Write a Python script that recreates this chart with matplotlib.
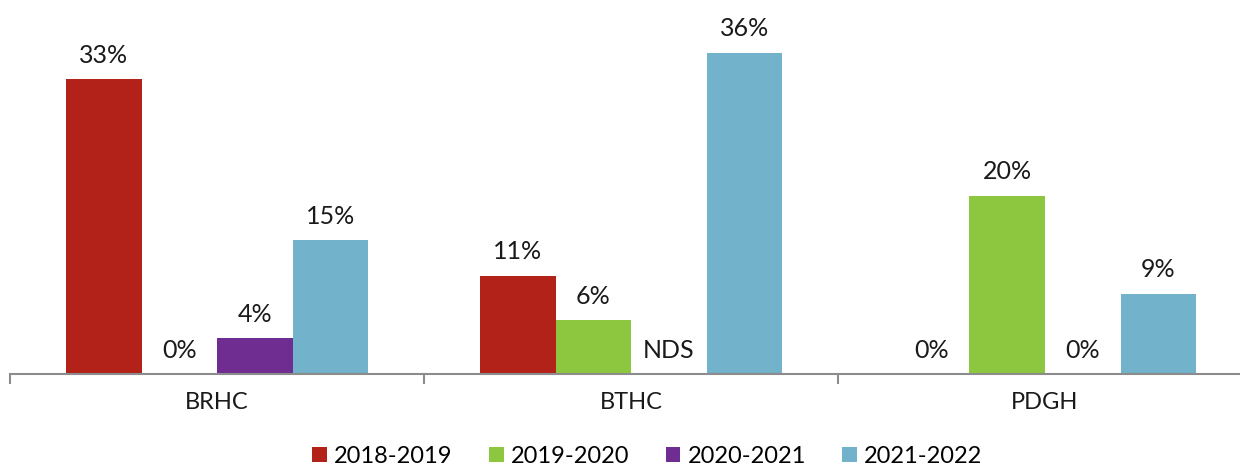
import matplotlib
matplotlib.use("Agg")
import matplotlib.pyplot as plt
import numpy as np

plt.rcParams['font.family'] = ['Lato', 'DejaVu Sans']

categories = ["BRHC", "BTHC", "PDGH"]
series_names = ["2018-2019", "2019-2020", "2020-2021", "2021-2022"]
values = {
    "2018-2019": [33, 11, 0],
    "2019-2020": [0, 6, 20],
    "2020-2021": [4, None, 0],
    "2021-2022": [15, 36, 9],
}
colors = ["#B22219", "#8DC63F", "#6F2C91", "#72B2CA"]

fig = plt.figure(figsize=(12.4, 4.66), dpi=100)
ax = fig.add_axes([10/1240, 92/466, 1242/1240, 357/466])

x = np.arange(len(categories))
w = 75.5/414
for i, (name, col) in enumerate(zip(series_names, colors)):
    vals = values[name]
    pos = x + (i - 1.5) * w
    heights = [v if v is not None else 0 for v in vals]
    ax.bar(pos, heights, width=w, color=col, label=name)
    for p, v in zip(pos, vals):
        if v is None:
            txt, h = "NDS", 0
        else:
            txt, h = f"{v}%", v
        ax.annotate(txt, (p, h), xytext=(0, 9), textcoords="offset points",
                    ha="center", va="bottom", fontsize=18, color="#1a1a1a")

ax.set_xlim(-0.5, 2.5)
ax.set_ylim(0, 40)
ax.set_yticks([])
for s in ["top", "right", "left"]:
    ax.spines[s].set_visible(False)
ax.spines["bottom"].set_color("#8c8c8c")
ax.spines["bottom"].set_linewidth(1.5)
ax.set_xticks([-0.5, 0.5, 1.5, 2.5], minor=False)
ax.set_xticklabels([])
ax.tick_params(axis="x", which="major", length=7, width=1.5, color="#8c8c8c", direction="out")
ax.set_xticks(x, minor=True)
ax.set_xticklabels(categories, minor=True, fontsize=17, color="#1a1a1a")
ax.tick_params(axis="x", which="minor", length=0, pad=13)

fig.legend(loc="lower center", bbox_to_anchor=(0.522, -0.047), ncol=4, frameon=False,
           fontsize=17, handlelength=0.62, handleheight=0.62, handletextpad=0.3,
           columnspacing=1.55)

fig.savefig("out.png", dpi=100)
